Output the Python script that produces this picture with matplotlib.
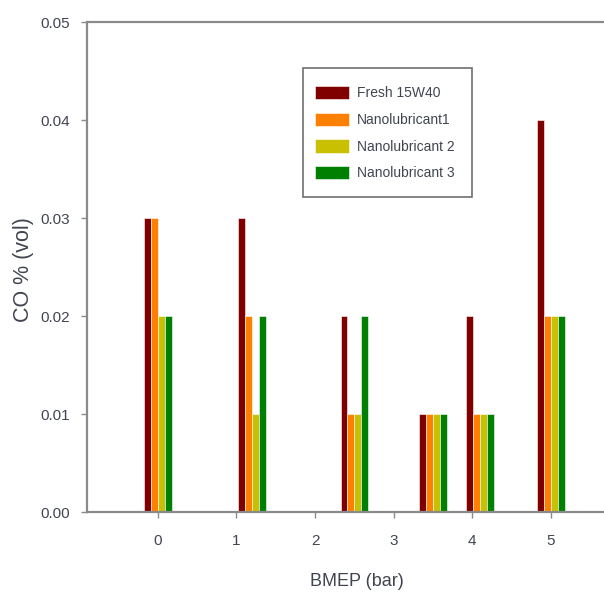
import matplotlib
matplotlib.use("Agg")
import matplotlib.pyplot as plt
from matplotlib import font_manager
from matplotlib.patches import Rectangle
import numpy as np

# BMEP load points and CO emissions for each lubricant
bmep = [0.0, 1.2, 2.5, 3.5, 4.1, 5.0]
fresh_15w40 = [0.03, 0.03, 0.02, 0.01, 0.02, 0.04]
nano_1 = [0.03, 0.02, 0.01, 0.01, 0.01, 0.02]
nano_2 = [0.02, 0.01, 0.01, 0.01, 0.01, 0.02]
nano_3 = [0.02, 0.02, 0.02, 0.01, 0.01, 0.02]

series_labels = ["Fresh 15W40", "Nanolubricant1", "Nanolubricant 2", "Nanolubricant 3"]
series_colors = ["#800000", "#ff8000", "#c8c000", "#008000"]
x_ticks = [0, 1, 2, 3, 4, 5]
y_ticks = [0.00, 0.01, 0.02, 0.03, 0.04, 0.05]

available = {f.name for f in font_manager.fontManager.ttflist}
narrow = "Liberation Sans Narrow" if "Liberation Sans Narrow" in available else "Liberation Sans"
plt.rcParams["font.family"] = [narrow, "DejaVu Sans"]

text_color = "#404550"
axis_color = "#8a8a8a"

W, H = 604, 597
fig = plt.figure(figsize=(W / 100, H / 100), dpi=100)
ax_w_px = W - 87 + 6
ax = fig.add_axes([87 / W, 1 - 512 / H, ax_w_px / W, (512 - 22) / H])

bar_w = 0.088
series = [fresh_15w40, nano_1, nano_2, nano_3]
x = np.array(bmep)
for i, (vals, lab, col) in enumerate(zip(series, series_labels, series_colors)):
    ax.bar(x + (i - 1.5) * bar_w, vals, width=bar_w, color=col, label=lab,
           edgecolor="white", linewidth=0.4, zorder=2)

ax.set_xlim(-0.9, 5.75)
ax.set_ylim(0, 0.05)
ax.set_xticks(x_ticks)
ax.set_xticklabels([str(t) for t in x_ticks])
ax.set_yticks(y_ticks)
ax.set_yticklabels([f"{t:.2f}" for t in y_ticks])

for side in ["left", "bottom", "top"]:
    ax.spines[side].set_color(axis_color)
    ax.spines[side].set_linewidth(1.6)
ax.spines["right"].set_visible(False)

ax.tick_params(axis="both", direction="out", length=4, width=1.0, color=axis_color,
               labelsize=11, labelcolor=text_color)
ax.tick_params(axis="x", pad=12)
ax.tick_params(axis="y", pad=8)

ax.set_xlabel("BMEP (bar)", fontsize=13, color=text_color)
ax.set_ylabel("CO % (vol)", fontsize=15.5, color=text_color)
ax.xaxis.set_label_coords((357 - 87) / ax_w_px, (512 - 581) / 490)
ax.yaxis.set_label_coords((23.5 - 87) / ax_w_px, (512 - 269.5) / 490)
ax.xaxis.label.set_va("center")
ax.yaxis.label.set_va("center")

# legend entries without their own frame; the box is drawn separately
leg = ax.legend(loc="upper left", bbox_to_anchor=(315 / W, 1 - 86 / H),
                bbox_transform=fig.transFigure, fontsize=10, frameon=False,
                handlelength=2.45, handleheight=1.1,
                labelspacing=0.88, borderpad=0, handletextpad=0.55,
                borderaxespad=0)
for t in leg.get_texts():
    t.set_color(text_color)

fig.add_artist(Rectangle((303 / W, 1 - 197 / H), (472 - 303) / W, (197 - 68) / H,
                         transform=fig.transFigure, facecolor="white",
                         edgecolor="#707070", linewidth=1.2, zorder=3))
leg.set_zorder(4)
fig.add_artist(leg)

fig.savefig("out.png", dpi=100)
